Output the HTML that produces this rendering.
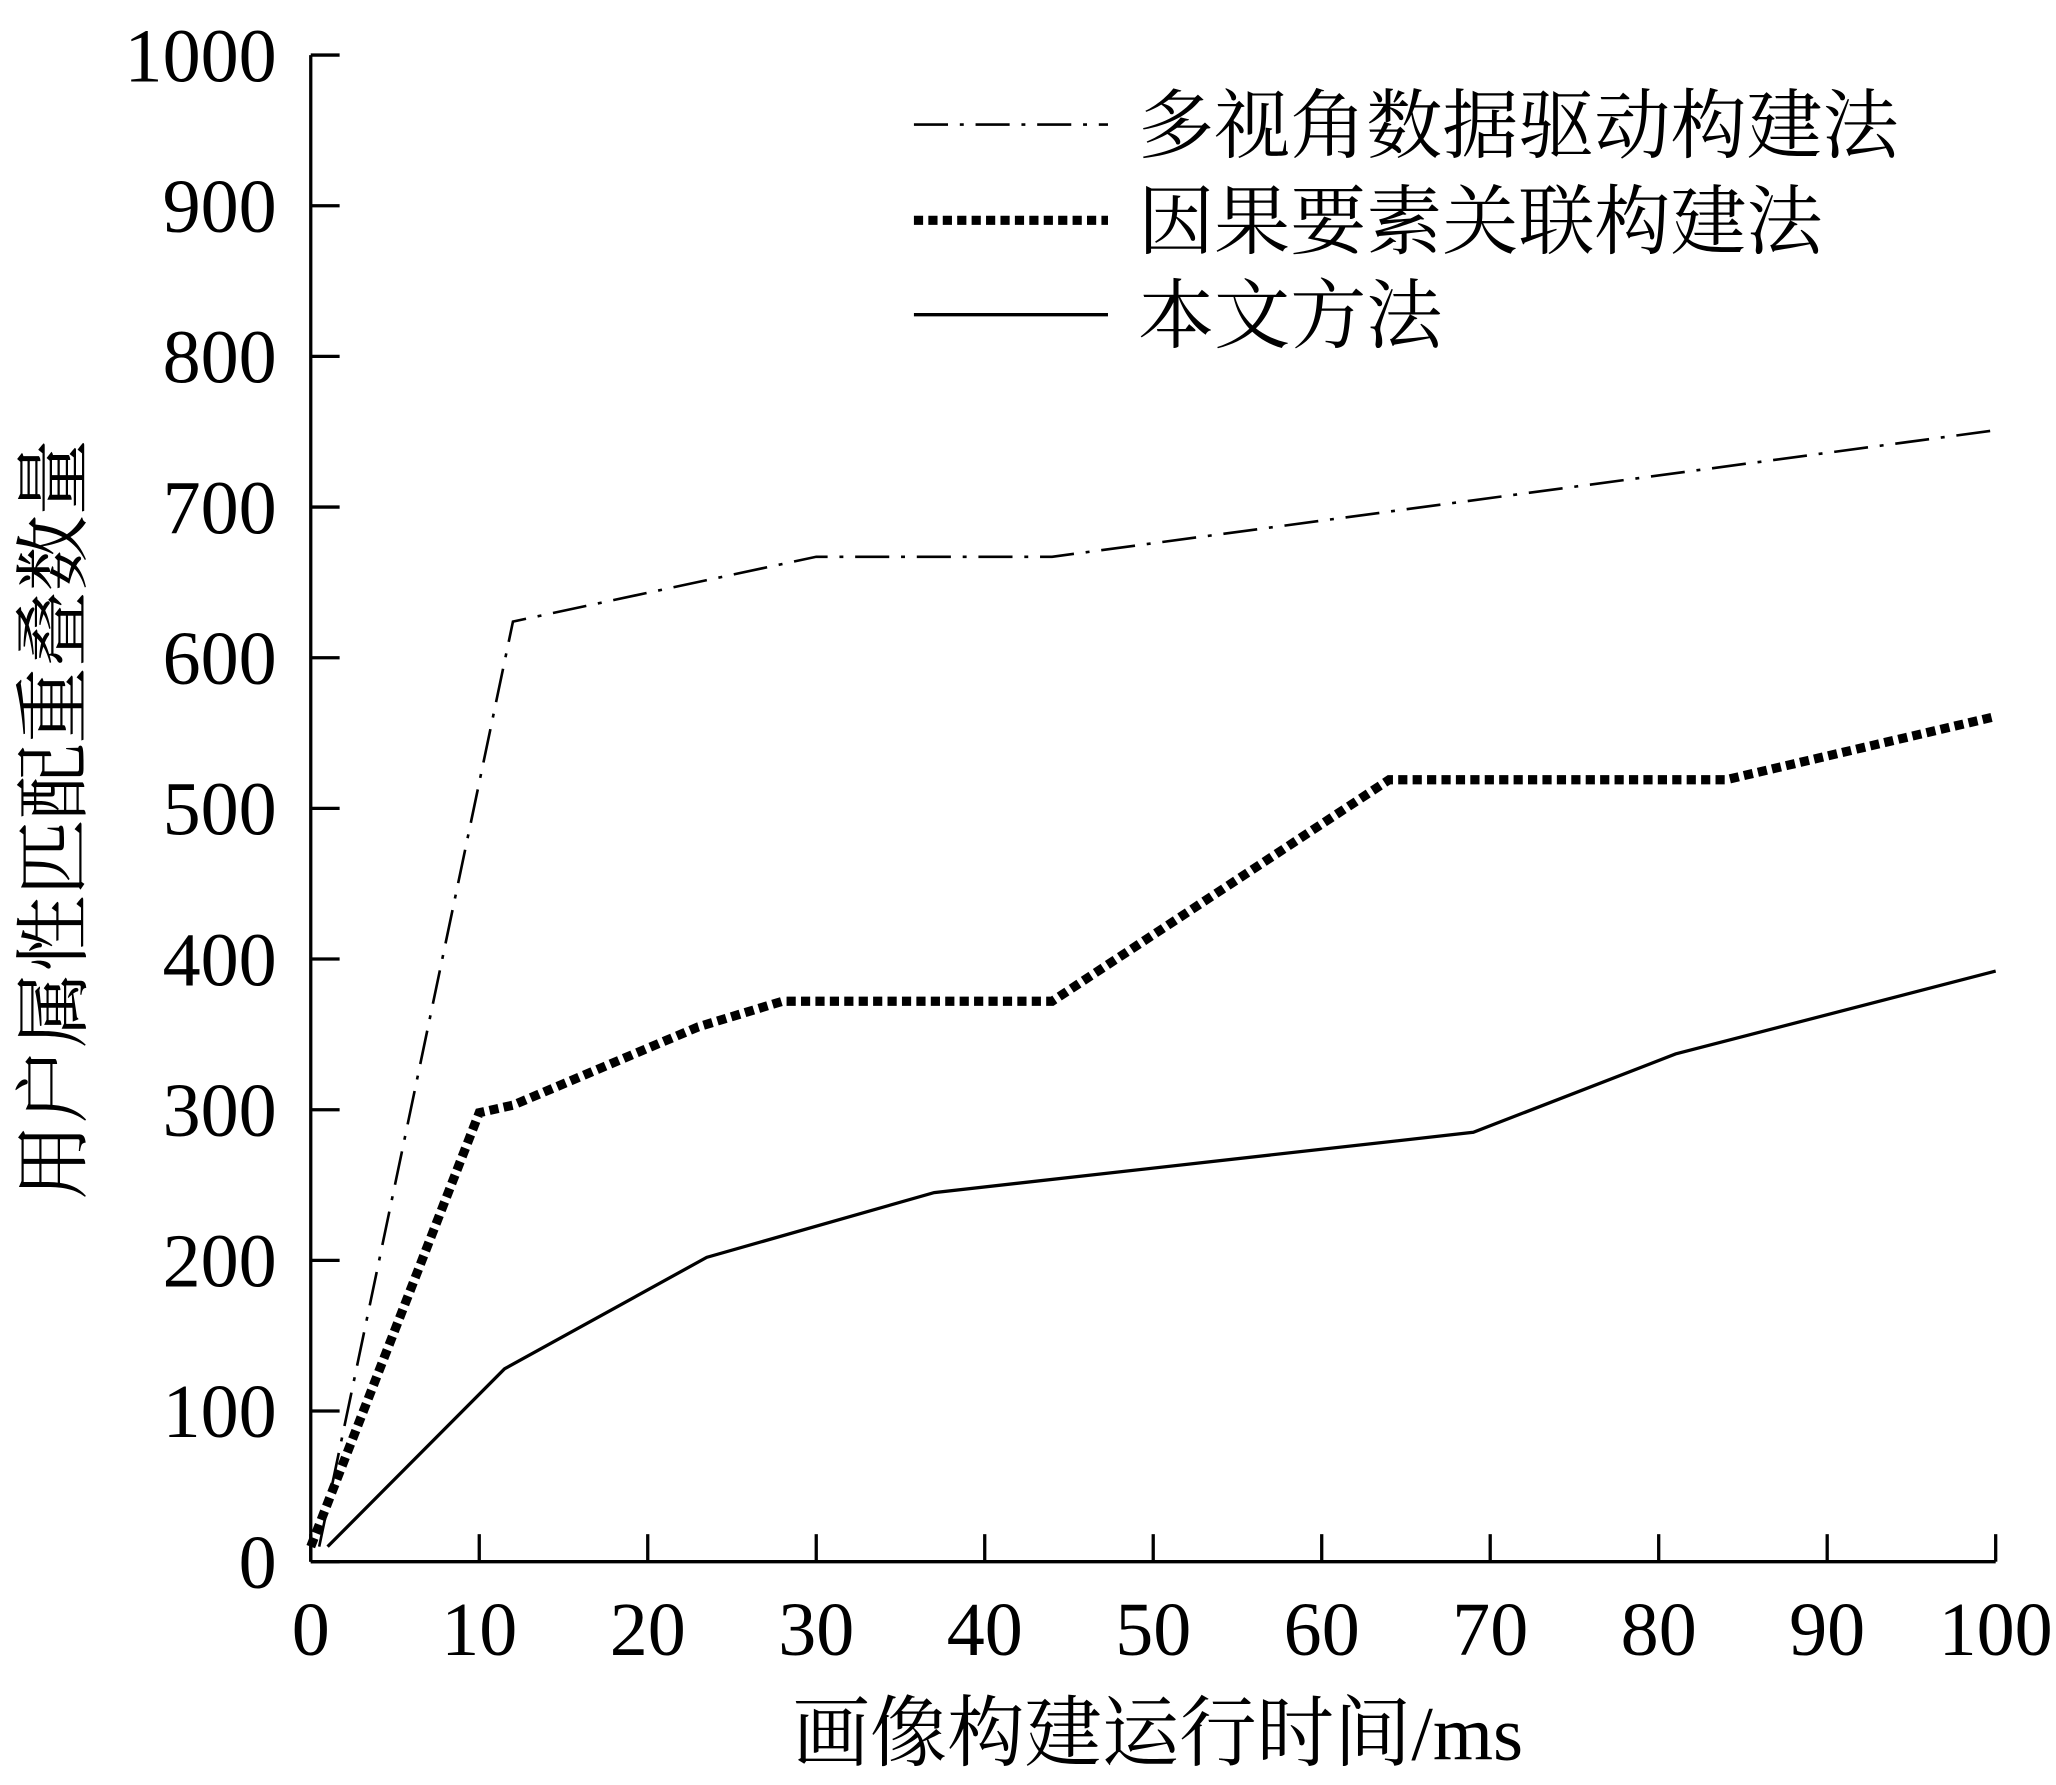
<!DOCTYPE html>
<html><head><meta charset="utf-8">
<style>
html,body{margin:0;padding:0;background:#fff;}
svg{display:block;}
text{font-family:"Liberation Serif","Noto Serif CJK SC",serif;fill:#000;}
</style></head>
<body>
<svg id="chart" width="2056" height="1785" viewBox="0 0 1568 1361.3" preserveAspectRatio="none" xmlns="http://www.w3.org/2000/svg">
<g id="axes"></g>
<g id="series"></g>
<g id="legend"></g>
</svg>
<script>
const xTicks = [0,10,20,30,40,50,60,70,80,90,100];
const yTicks = [0,100,200,300,400,500,600,700,800,900,1000];
const seriesNames = ["多视角数据驱动构建法","因果要素关联构建法","本文方法"];
const multiX = [0.5,12,30,44,100];
const multiY = [10,624,667,667,751];
const causalX = [0,10,12,23,28,44,64,84,100];
const causalY = [10,298,303,355,372,372,519,519,561];
const oursX = [1,11.5,23.5,37,69,81,100];
const oursY = [10,128,202,245,285,337,392];

const NS="http://www.w3.org/2000/svg";
const X0=237,X1=1522,Y0=1191,Y1=42;
const sx=v=>X0+(X1-X0)*v/100;
const sy=v=>Y0-(Y0-Y1)*v/1000;
function mk(tag,attrs,parent,txt){const e=document.createElementNS(NS,tag);for(const k in attrs)e.setAttribute(k,attrs[k]);if(txt!==undefined)e.textContent=txt;parent.appendChild(e);return e;}
const axes=document.getElementById('axes');
let e=mk('line',{x1:X0,y1:Y0,x2:X1,y2:Y0,stroke:'#000','stroke-width':2.5},axes);


e=mk('line',{x1:X0,y1:Y0,x2:X0,y2:Y1,stroke:'#000','stroke-width':2.5},axes);


xTicks.forEach(t=>{
  const l=mk('line',{x1:sx(t),y1:Y0,x2:sx(t),y2:Y0-21,stroke:'#000','stroke-width':2.5},axes);
  
  
  const tx=mk('text',{x:sx(t),y:Y0+71,'text-anchor':'middle','font-size':58},axes,String(t));
  
  
});
yTicks.forEach(t=>{
  const l=mk('line',{x1:X0,y1:sy(t),x2:X0+22,y2:sy(t),stroke:'#000','stroke-width':2.5},axes);
  
  
  const tx=mk('text',{x:X0-26,y:sy(t)+20,'text-anchor':'end','font-size':58},axes,String(t));
  
  
});
e=mk('text',{x:883,y:1342,'text-anchor':'middle','font-size':59},axes,'画像构建运行时间/ms');


e=mk('text',{x:0,y:0,'text-anchor':'middle','font-size':58,transform:'translate(61,625) rotate(-90)'},axes,'用户属性匹配重叠数量');



const styles=[
  {stroke:'#000','stroke-width':2,'stroke-dasharray':'26 9 3 9',fill:'none'},
  {stroke:'#000','stroke-width':7,'stroke-dasharray':'7 4',fill:'none'},
  {stroke:'#000','stroke-width':2.5,fill:'none'}
];
const data=[[multiX,multiY],[causalX,causalY],[oursX,oursY]];
const names=['series-multi-view','series-causal','series-ours'];
const ser=document.getElementById('series');
data.forEach((d,i)=>{
  const pts=d[0].map((x,j)=>sx(x)+','+sy(d[1][j])).join(' ');
  const p=mk('polyline',Object.assign({points:pts},styles[i]),ser);
  
  
});
const leg=document.getElementById('legend');
const ly=[95,168,240];
seriesNames.forEach((n,i)=>{
  const l=mk('line',Object.assign({x1:697,y1:ly[i],x2:845,y2:ly[i]},styles[i]),leg);
  
  
  const t=mk('text',{x:868,y:ly[i]+21,'font-size':58},leg,n);
  
  
});
</script>
</body></html>
